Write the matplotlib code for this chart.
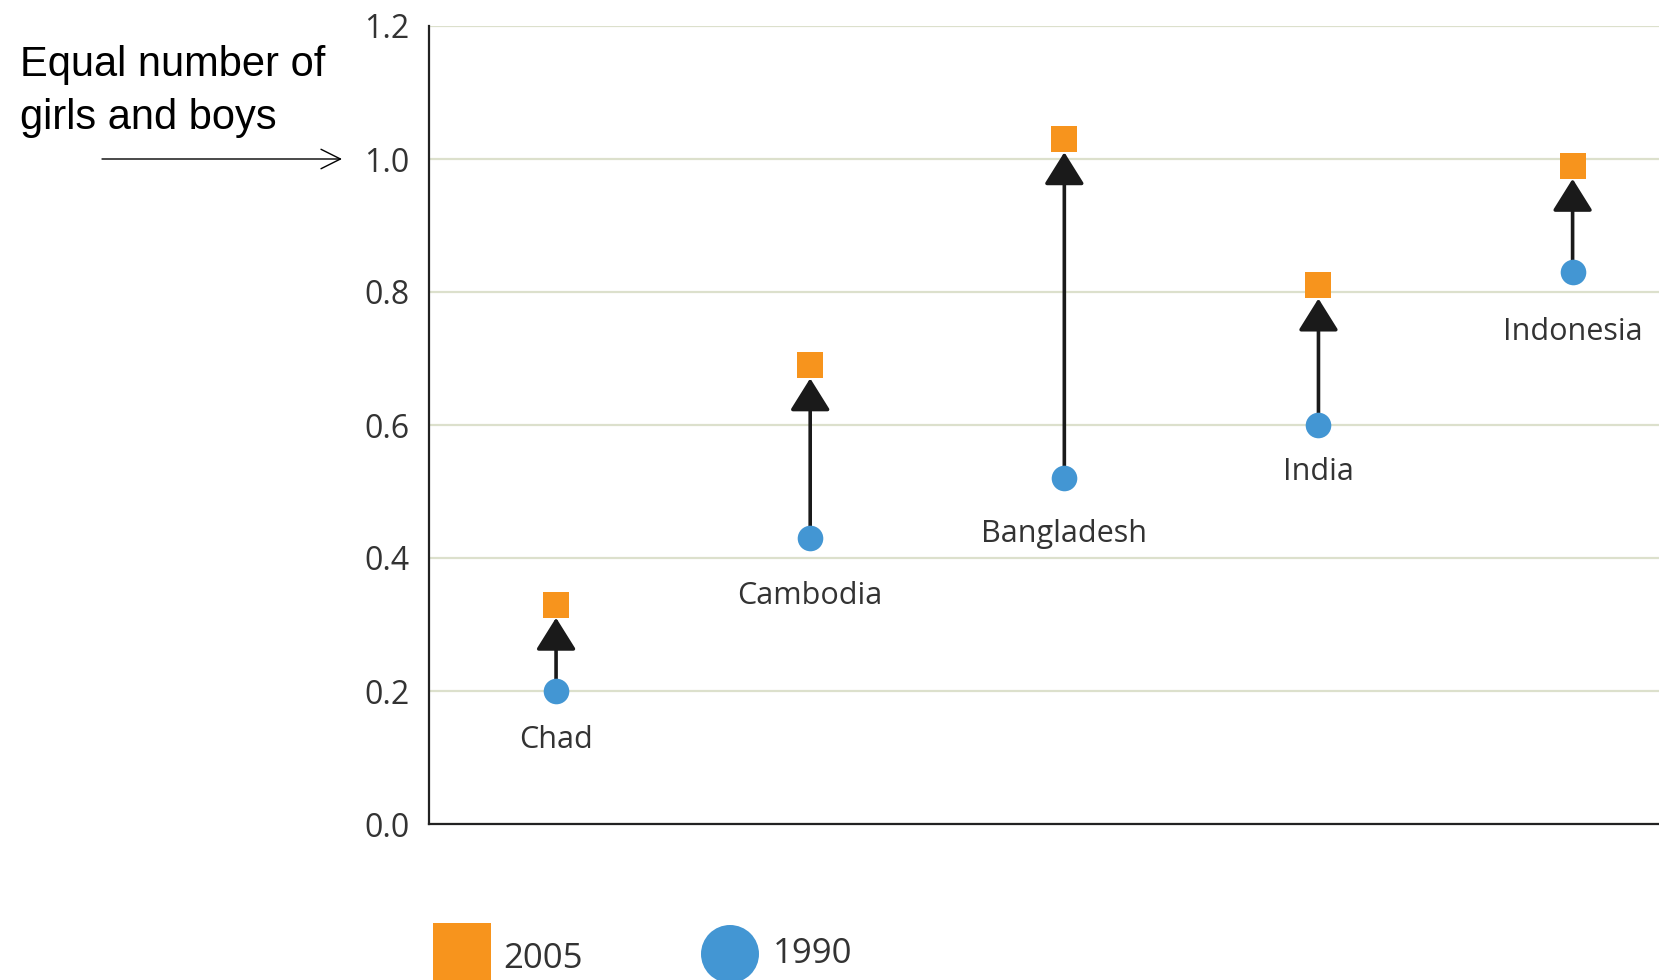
import matplotlib
matplotlib.use("Agg")
import matplotlib.pyplot as plt
from matplotlib.patches import Rectangle, Ellipse

countries = ["Chad", "Cambodia", "Bangladesh", "India", "Indonesia"]
val_1990 = [0.20, 0.43, 0.52, 0.60, 0.83]
val_2005 = [0.33, 0.69, 1.03, 0.81, 0.99]
label_offsets_pt = [35, 42, 40, 34, 43]
yticks = [0.0, 0.2, 0.4, 0.6, 0.8, 1.0, 1.2]
ytick_labels = ["0.0", "0.2", "0.4", "0.6", "0.8", "1.0", "1.2"]

ORANGE = "#F7941D"
BLUE = "#4396D3"
W, H = 1659, 980

fig = plt.figure(figsize=(W / 100, H / 100), dpi=100)
ax = fig.add_axes([429 / W, 1 - 824 / H, 1 - 429 / W, (824 - 26) / H])

x = list(range(len(countries)))
ax.set_xlim(-0.5, 4.34)
ax.set_ylim(0, 1.2)

for sp in ["top", "right"]:
    ax.spines[sp].set_visible(False)
for sp in ["left", "bottom"]:
    ax.spines[sp].set_linewidth(1.6)
    ax.spines[sp].set_color("#222222")

ax.set_yticks(yticks)
ax.set_yticklabels(ytick_labels, fontfamily="Open Sans", fontsize=23, color="#333333")
ax.set_xticks([])
ax.tick_params(axis="y", length=0, pad=14)
ax.grid(axis="y", color="#DCE0CC", linewidth=1.6)
ax.set_axisbelow(True)

for xi, a, b in zip(x, val_1990, val_2005):
    ax.annotate("", xy=(xi, b), xytext=(xi, a),
                arrowprops=dict(arrowstyle="-|>,head_length=0.8,head_width=0.5",
                                mutation_scale=25, color="#1a1a1a", lw=2.6,
                                shrinkA=0, shrinkB=9.5),
                zorder=3)

ax.scatter(x, val_2005, marker="s", s=350, color=ORANGE, zorder=4, linewidths=0)
ax.scatter(x, val_1990, marker="o", s=340, color=BLUE, zorder=4, linewidths=0)

for xi, a, name, off in zip(x, val_1990, countries, label_offsets_pt):
    ax.annotate(name, xy=(xi, a), xytext=(0, -off), textcoords="offset points",
                ha="center", va="center", fontfamily="Open Sans", fontsize=22,
                color="#333333")

# annotation on the left
fig.text(20 / W, 1 - 45 / H, "Equal number of\ngirls and boys",
         fontfamily="Liberation Sans", fontsize=30, color="black",
         ha="left", va="top", linespacing=1.42)
ax.annotate("", xy=(342, 1.0), xytext=(102, 1.0),
            xycoords=("figure pixels", "data"), textcoords=("figure pixels", "data"),
            arrowprops=dict(arrowstyle="->,head_length=1.0,head_width=0.5",
                            mutation_scale=14, color="black", lw=1.0,
                            shrinkA=0, shrinkB=0),
            annotation_clip=False)

# legend (cut at bottom edge)
fig.patches.append(Rectangle((433 / W, -10 / H), 58 / W, 67 / H,
                             transform=fig.transFigure, color=ORANGE, lw=0))
fig.patches.append(Ellipse((730 / W, 26 / H), 58 / W, 58 / H,
                           transform=fig.transFigure, color=BLUE, lw=0))
fig.text(503 / W, 21 / H, "2005", fontfamily="Open Sans", fontsize=25,
         color="#333333", ha="left", va="center")
fig.text(773 / W, 26 / H, "1990", fontfamily="Open Sans", fontsize=25,
         color="#333333", ha="left", va="center")

fig.savefig("out.png", dpi=100, facecolor="white")
